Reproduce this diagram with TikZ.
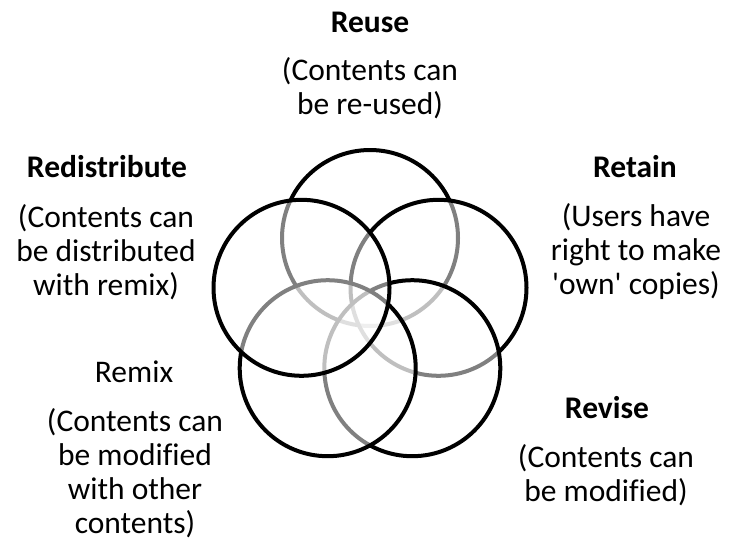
\documentclass[tikz,border=0pt]{standalone}
\usepackage{fontspec}
\setmainfont{Carlito}[Ligatures={NoCommon}]
\begin{document}
\begin{tikzpicture}[x=1pt,y=-1pt,
  petal/.style={circle, draw=black, line width=4pt, fill=white, fill opacity=0.5,
    minimum size=176pt, inner sep=0pt, outer sep=0pt},
  head/.style={font=\fontsize{31.5}{34}\selectfont\bfseries, inner sep=0pt},
  plainhead/.style={font=\fontsize{31.5}{34}\selectfont, inner sep=0pt},
  desc/.style={font=\fontsize{31.5}{34}\selectfont, align=center, inner sep=0pt}]
\useasboundingbox (0,0) rectangle (733,541);
% circles, bottom layer first
\node[petal] (reuse)  at (370,238) {};
\node[petal] (retain) at (438.5,287.8) {};
\node[petal] (revise) at (412.3,368.2) {};
\node[petal] (remix)  at (327.7,368.2) {};
\node[petal] (redist) at (301.5,287.8) {};
% labels
\node[head] (reuseT) at (370,22) {Reuse};
\node[desc] (reuseD) at (370,88.5) {(Contents can\\be re-used)};
\node[head] (redistT) at (107,167) {Redistribute};
\node[desc] (redistD) at (106,252) {(Contents can\\be distributed\\with remix)};
\node[head] (retainT) at (635,167) {Retain};
\node[desc] (retainD) at (636,252) {(Users have\\right to make\\\textquotesingle own\textquotesingle{} copies)};
\node[plainhead] (remixT) at (134,372) {Remix};
\node[desc] (remixD) at (135,473.5) {(Contents can\\be modified\\with other\\contents)};
\node[head] (reviseT) at (607,408) {Revise};
\node[desc] (reviseD) at (606,475) {(Contents can\\be modified)};
\end{tikzpicture}
\end{document}
